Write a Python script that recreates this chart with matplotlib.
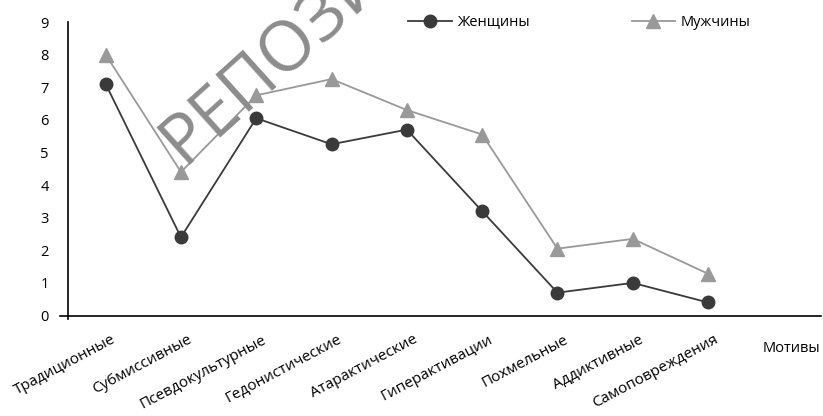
import matplotlib
matplotlib.use("Agg")
import matplotlib.pyplot as plt
from matplotlib.transforms import ScaledTranslation

plt.rcParams['font.family'] = ['Open Sans', 'DejaVu Sans']

motives = ['Традиционные', 'Субмиссивные', 'Псевдокультурные', 'Гедонистические',
           'Атарактические', 'Гиперактивации', 'Похмельные', 'Аддиктивные',
           'Самоповреждения']
women = [7.1, 2.4, 6.05, 5.25, 5.7, 3.2, 0.7, 1.0, 0.4]
men = [8.0, 4.4, 6.75, 7.25, 6.3, 5.55, 2.05, 2.35, 1.28]
y_ticks = list(range(0, 10))

W, H = 823, 416
fig = plt.figure(figsize=(W / 100, H / 100), dpi=100)
ax = fig.add_axes([68 / W, 1 - 315.5 / H, (821 - 68) / W, (315.5 - 22) / H])

x = [i + 0.5 for i in range(len(motives))]
ax.plot(x, women, color='#3a3a3a', lw=1.3, marker='o', ms=9,
        markerfacecolor='#3a3a3a', markeredgecolor='#3a3a3a', label='Женщины')
ax.plot(x, men, color='#999999', lw=1.3, marker='^', ms=10,
        markerfacecolor='#999999', markeredgecolor='#999999', label='Мужчины')

ax.set_xlim(0, 10)
ax.set_ylim(0, 9)
ax.set_yticks(y_ticks)
ax.set_yticklabels([str(v) for v in y_ticks], fontsize=10.5)
ax.tick_params(axis='y', length=0, pad=14)
ax.set_xticks(x)
ax.set_xticklabels(motives, rotation=28, ha='right', va='top',
                   rotation_mode='anchor', fontsize=11)
ax.tick_params(axis='x', length=0, pad=12)
shift = ScaledTranslation(6 / 100, 0, fig.dpi_scale_trans)
for lbl in ax.get_xticklabels():
    lbl.set_transform(lbl.get_transform() + shift)

for s in ['top', 'right']:
    ax.spines[s].set_visible(False)
ax.spines['left'].set_bounds(-0.12, 9)
ax.spines['left'].set_linewidth(1.2)
ax.spines['bottom'].set_linewidth(1.2)
ax.spines['bottom'].set_bounds(-0.1, 10)

leg = ax.legend(loc='upper left', bbox_to_anchor=(408 / W, 1 - 15 / H),
                bbox_transform=fig.transFigure, ncol=2, frameon=False,
                handlelength=3.0, handletextpad=0.35, columnspacing=7.0,
                fontsize=10.5, borderpad=0, borderaxespad=0)

fig.text(763 / W, 1 - 349 / H, 'Мотивы', fontsize=10.5, va='center', ha='left')

# repository watermark
fig.text(183 / W, 1 - 165 / H, 'РЕПОЗИТОРИЙ', fontsize=50, color='#8c8c8c',
         rotation=42, rotation_mode='anchor', ha='left', va='baseline',
         zorder=10)

fig.savefig('out.png', dpi=100)
